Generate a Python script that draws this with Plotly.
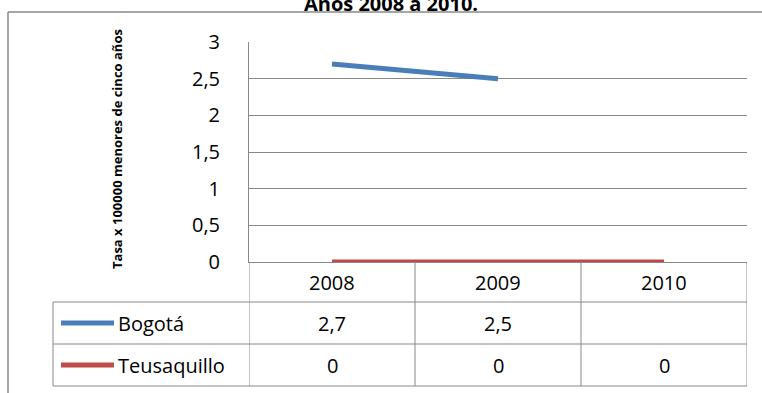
import plotly.graph_objects as go

# ---- data ----
years = ["2008", "2009", "2010"]
series_names = ["Bogotá", "Teusaquillo"]
bogota = [2.7, 2.5, None]
teusaquillo = [0, 0, 0]
y_ticks = [0, 0.5, 1, 1.5, 2, 2.5, 3]
title_text = "Años 2008 a 2010."
y_title = "Tasa x 100000 menores de cinco años"

colors = ["#4A7EBB", "#BE4B48"]
grid = "#888888"
FONT = "Open Sans, Carlito, Calibri, sans-serif"
W, H = 762, 393

def px(x):
    return x / W

def py(y):
    return 1 - y / H

# layout geometry (pixels)
plot_left, plot_right = 249, 747
plot_top, plot_bottom = 42, 262
row_lines = [302, 344, 386]
table_left = 53

fig = go.Figure()
all_series = [bogota, teusaquillo]
for name, vals, col in zip(series_names, all_series, colors):
    fig.add_trace(go.Scatter(x=years, y=vals, mode="lines", name=name,
                             line=dict(color=col, width=5), cliponaxis=False,
                             connectgaps=False, showlegend=False))

shapes = []
annotations = []

# outer frame (top & left edges)
shapes.append(dict(type="line", xref="paper", yref="paper", x0=px(8), x1=1.0,
                   y0=py(12), y1=py(12), line=dict(color=grid, width=1.5)))
shapes.append(dict(type="line", xref="paper", yref="paper", x0=px(8), x1=px(8),
                   y0=py(12), y1=0, line=dict(color=grid, width=1.5)))

# table horizontal lines
for r in row_lines:
    shapes.append(dict(type="line", xref="paper", yref="paper",
                       x0=px(table_left), x1=px(plot_right), y0=py(r), y1=py(r),
                       line=dict(color=grid, width=1)))
# table left edge
shapes.append(dict(type="line", xref="paper", yref="paper", x0=px(table_left), x1=px(table_left),
                   y0=py(row_lines[0]), y1=py(row_lines[-1]), line=dict(color=grid, width=1)))
# column separators in data coordinates
for i in range(len(years) + 1):
    xb = i - 0.5
    shapes.append(dict(type="line", xref="x", yref="paper", x0=xb, x1=xb,
                       y0=py(plot_bottom), y1=py(row_lines[-1]),
                       line=dict(color=grid, width=1), layer="below"))

# header row (years)
hdr_c = (plot_bottom + row_lines[0]) / 2
for i, yr in enumerate(years):
    annotations.append(dict(x=i, xref="x", y=py(hdr_c), yref="paper", text=yr,
                            showarrow=False, font=dict(size=20, color="black", family=FONT),
                            xanchor="center", yanchor="middle"))

# series rows
for k, (name, vals, col) in enumerate(zip(series_names, all_series, colors)):
    top = row_lines[k]
    bot = row_lines[k + 1]
    c = (top + bot) / 2
    shapes.append(dict(type="line", xref="paper", yref="paper", x0=px(61), x1=px(114),
                       y0=py(c), y1=py(c), line=dict(color=col, width=5)))
    annotations.append(dict(x=px(116), xref="paper", y=py(c), yref="paper", text=name,
                            showarrow=False, font=dict(size=20, color="black", family=FONT),
                            xanchor="left", yanchor="middle"))
    for i, v in enumerate(vals):
        if v is None:
            continue
        txt = ("%g" % v).replace(".", ",")
        annotations.append(dict(x=i, xref="x", y=py(c), yref="paper", text=txt,
                                showarrow=False, font=dict(size=20, color="black", family=FONT),
                                xanchor="center", yanchor="middle"))

# y title
annotations.append(dict(x=px(117), xref="paper", y=py(149), yref="paper", text="<b>" + y_title + "</b>",
                        textangle=-90, showarrow=False,
                        font=dict(size=13, color="black", family=FONT),
                        xanchor="center", yanchor="middle"))

fig.update_layout(
    width=W, height=H, margin=dict(l=0, r=0, t=0, b=0, autoexpand=False),
    paper_bgcolor="white", plot_bgcolor="white",
    separators=",.",
    showlegend=False,
    title=dict(text="<b>" + title_text + "</b>", x=px(391), xref="container", xanchor="center",
               y=py(4), yref="container", yanchor="middle", automargin=False,
               font=dict(size=20, color="black", family=FONT)),
    shapes=shapes, annotations=annotations,
    xaxis=dict(domain=[px(plot_left), px(plot_right)], type="category",
               categoryorder="array", categoryarray=years, range=[-0.5, 2.5],
               showgrid=False, showticklabels=False, ticks="", zeroline=False, automargin=False,
               showline=True, linecolor=grid, linewidth=1, layer="below traces", fixedrange=True),
    yaxis=dict(domain=[py(plot_bottom), py(plot_top)], range=[0, 3],
               tickvals=y_ticks, showgrid=True, gridcolor=grid, gridwidth=1,
               zeroline=False, showline=True, linecolor=grid, linewidth=1, automargin=False,
               ticks="", ticklabelstandoff=24,
               tickfont=dict(size=20, color="black", family=FONT),
               layer="below traces", fixedrange=True),
)

fig.write_html("out.html")
